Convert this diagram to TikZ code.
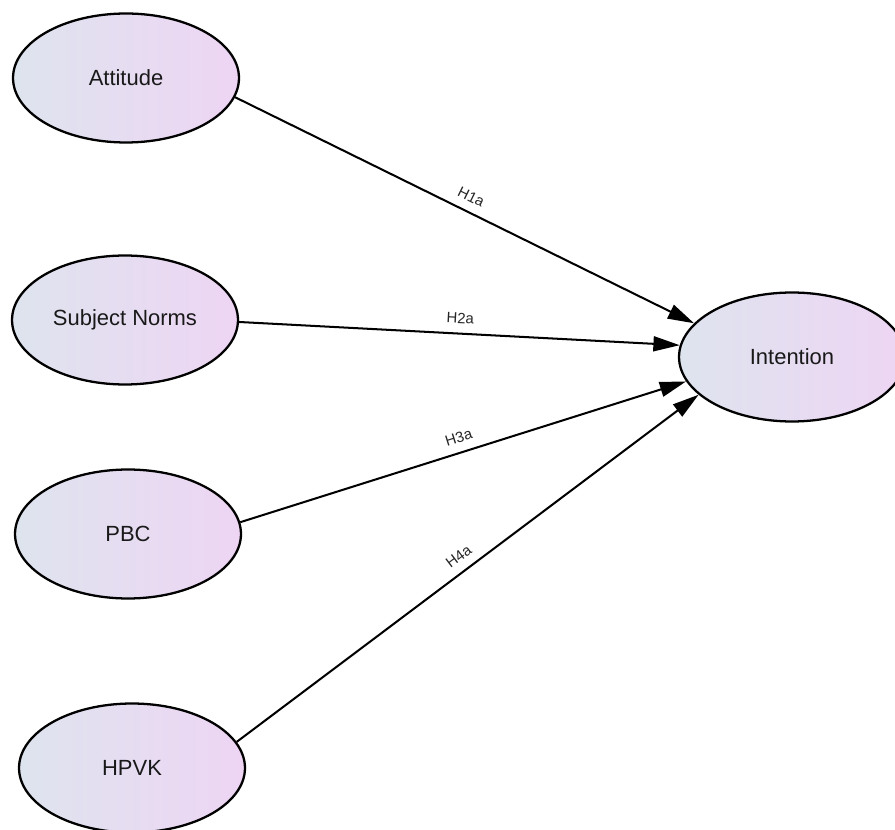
\documentclass[tikz,border=0pt]{standalone}
\usepackage{fontspec}
\setmainfont{Liberation Sans}
\usetikzlibrary{shapes.geometric,arrows.meta}
\definecolor{lblue}{RGB}{222,228,238}
\definecolor{lpink}{RGB}{238,213,244}

\begin{document}
\begin{tikzpicture}[x=0.02cm,y=-0.02cm]
    %
    % `construct' is used for the latent variables (ellipses).
    % `hyp' is used for the hypothesis paths, `hlabel' for their names.
    \tikzstyle{construct} = [draw,ellipse,line width=1.3pt,left color=lblue,right color=lpink,minimum width=4.52cm,minimum height=2.58cm,inner sep=0pt,font=\fontsize{12.5}{15}\selectfont,text=black!90]
    \tikzstyle{hyp} = [line width=1.15pt,-{Triangle[length=15pt,width=8.5pt]}]
    \tikzstyle{hlabel} = [sloped,above=3pt,inner sep=2pt,font=\fontsize{8.5}{10}\selectfont,text=black!85]
    %
    \useasboundingbox (0,0) rectangle (895,830);
    \clip (0,0) rectangle (895,830);
    %
    % Predictors
    \node[construct] (att) at (126,78) {Attitude};
    \node[construct] (sn) at (125,320) {Subject Norms};
    \node[construct] (pbc) at (128,534) {PBC};
    \node[construct] (hpvk) at (132,768) {HPVK};
    %
    % Outcome
    \node[construct] (int) at (792,357) {Intention};
    %
    % Hypotheses
    \draw[hyp] (att.-10) -- node[hlabel] {H1a} (int.161);
    \draw[hyp] (sn.-1) -- node[hlabel] {H2a} (int.174);
    \draw[hyp] (pbc.6) -- node[hlabel] {H3a} (int.193);
    \draw[hyp] (hpvk.14) -- node[hlabel] {H4a} (int.202);
    %
\end{tikzpicture}
\end{document}
